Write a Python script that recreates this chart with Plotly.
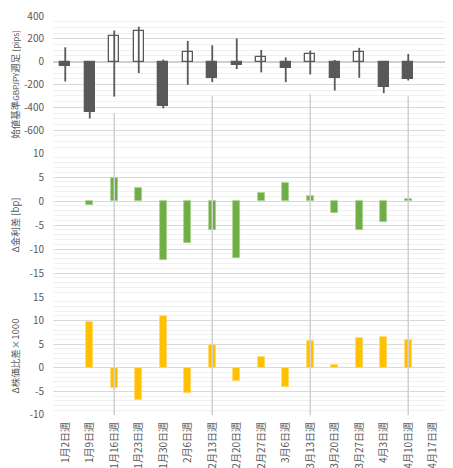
import plotly.graph_objects as go

# ---------------- data ----------------
weeks = ["1月2日週", "1月9日週", "1月16日週", "1月23日週", "1月30日週", "2月6日週",
         "2月13日週", "2月20日週", "2月27日週", "3月6日週", "3月13日週", "3月20日週",
         "3月27日週", "4月3日週", "4月10日週", "4月17日週"]

candle_weeks = weeks[:15]
gbpjpy_open = [0, 0, 0, 0, 0, 0, 0, 0, 0, 0, 0, 0, 0, 0, 0]
gbpjpy_close = [-38, -438, 229, 265, -388, 82, -141, -32, 41, -59, 68, -141, 85, -226, -156]
gbpjpy_high = [126, 0, 273, 306, 18, 182, 144, 203, 103, 38, 97, 15, 121, 3, 68]
gbpjpy_low = [-173, -497, -306, -100, -409, -203, -179, -65, -94, -179, -112, -253, -141, -276, -165]

diff_weeks = weeks[1:15]
rate_diff = [-0.9, 4.8, 2.8, -12.3, -8.7, -6.1, -11.8, 1.7, 3.7, 1.1, -2.4, -6.1, -4.4, 0.4]
stock_diff = [9.8, -4.2, -6.9, 10.9, -5.3, 4.9, -2.9, 2.2, -4.0, 5.7, 0.6, 6.3, 6.5, 5.8]

event_weeks = ["1月16日週", "2月13日週", "3月13日週", "4月10日週"]
event_line_top = [-450, -300, -280, -300]   # in top-panel units (pips)

top_ticks = [400, 200, 0, -200, -400, -600]
mid_ticks = [10, 5, 0, -5, -10, -15]
bot_ticks = [15, 10, 5, 0, -5, -10]

# ---------------- style ----------------
FONT = "Noto Sans CJK JP, Noto Sans, sans-serif"
TXT = "#595959"
GRID = "#d9d9d9"
MINOR = "#f0f0f0"
DARK = "#595959"
GREEN = "#70AD47"
ORANGE = "#FFC000"
EVENT = "#d0d0d0"

top_range = [-800, 400]
mid_range = [-20, 10]
bot_range = [-10, 15]
dom_top = [0.6566, 1.0]
dom_mid = [0.2957, 0.6566]
dom_bot = [0.0, 0.2957]

fig = go.Figure()


def vsegments(xs, y0s, y1s):
    px, py = [], []
    for x, a, b in zip(xs, y0s, y1s):
        px += [x, x, None]
        py += [a, b, None]
    return px, py


# event lines (one trace per panel, drawn first so bars sit on top)
ex, ey = vsegments(event_weeks, [top_range[0]] * len(event_weeks), event_line_top)
fig.add_trace(go.Scatter(x=ex, y=ey, mode="lines", line=dict(color=EVENT, width=1.5),
                         yaxis="y", xaxis="x", hoverinfo="skip", showlegend=False))
ex, ey = vsegments(event_weeks, [mid_range[0]] * len(event_weeks), [mid_range[1]] * len(event_weeks))
fig.add_trace(go.Scatter(x=ex, y=ey, mode="lines", line=dict(color=EVENT, width=1.5),
                         yaxis="y2", xaxis="x", hoverinfo="skip", showlegend=False))
ex, ey = vsegments(event_weeks, [bot_range[0]] * len(event_weeks), [bot_range[1]] * len(event_weeks))
fig.add_trace(go.Scatter(x=ex, y=ey, mode="lines", line=dict(color=EVENT, width=1.5),
                         yaxis="y3", xaxis="x", hoverinfo="skip", showlegend=False))

# wicks
wx, wy = vsegments(candle_weeks, gbpjpy_low, gbpjpy_high)
fig.add_trace(go.Scatter(x=wx, y=wy, mode="lines", line=dict(color=DARK, width=1.8),
                         yaxis="y", xaxis="x", hoverinfo="skip", showlegend=False))

# bodies
body_colors = ["white" if c >= o else DARK for o, c in zip(gbpjpy_open, gbpjpy_close)]
fig.add_trace(go.Bar(x=candle_weeks,
                     y=[c - o for o, c in zip(gbpjpy_open, gbpjpy_close)],
                     base=gbpjpy_open, width=0.4,
                     marker=dict(color=body_colors, line=dict(color=DARK, width=1.3)),
                     yaxis="y", xaxis="x", showlegend=False))

fig.add_trace(go.Bar(x=diff_weeks, y=rate_diff, width=0.27,
                     marker=dict(color=GREEN, line=dict(color="#a9d18e", width=0.8)),
                     yaxis="y2", xaxis="x", showlegend=False))

fig.add_trace(go.Bar(x=diff_weeks, y=stock_diff, width=0.27,
                     marker=dict(color=ORANGE, line=dict(color="#ffd966", width=0.8)),
                     yaxis="y3", xaxis="x", showlegend=False))


def yax(rng, dom, ticks, dminor, title, zero=False):
    return dict(range=rng, domain=dom, tickvals=ticks, ticktext=[str(t) for t in ticks],
                showgrid=True, gridcolor=GRID, gridwidth=1,
                minor=dict(dtick=dminor, showgrid=True, gridcolor=MINOR, gridwidth=1),
                zeroline=zero, zerolinecolor="#d0d0d0", zerolinewidth=2,
                showline=False, ticks="", ticklabelstandoff=8, automargin=False,
                ticklabeloverflow="allow",
                tickfont=dict(family=FONT, size=10, color=TXT),
                title=dict(text=title, font=dict(family=FONT, size=9.5, color=TXT), standoff=14),
                anchor="x", fixedrange=True)


top_title = ("始値基準<span style='font-size:8px'>GBPJPY</span>週足 "
             "<span style='font-size:8px'>[pips]</span>")

fig.update_layout(
    width=453, height=468,
    margin=dict(l=45, r=16, t=8, b=61, autoexpand=False),
    paper_bgcolor="white", plot_bgcolor="white",
    barmode="overlay", bargap=0,
    showlegend=False,
    xaxis=dict(type="category", categoryorder="array", categoryarray=weeks,
               tickvals=weeks, range=[-0.5, 15.5], anchor="y3", automargin=False,
               showgrid=False, zeroline=False, showline=False, ticks="",
               tickangle=-90, tickfont=dict(family=FONT, size=10, color=TXT),
               ticklabelstandoff=4, ticklabeloverflow="allow"),
    yaxis=yax(top_range, dom_top, top_ticks, 50, top_title, zero=True),
    yaxis2=yax(mid_range, dom_mid, mid_ticks, 1, "Δ金利差 [bp]"),
    yaxis3=yax(bot_range, dom_bot, bot_ticks, 1, "Δ株価比差×1000"),
)

fig.write_html("out.html")
